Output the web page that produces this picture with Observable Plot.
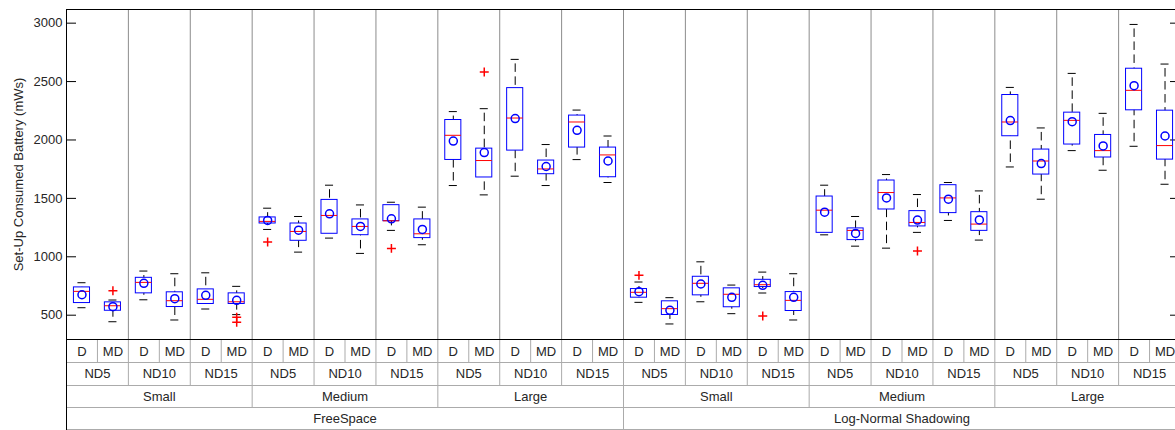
<!DOCTYPE html>
<html>
<head>
<meta charset="utf-8">
<script src="https://cdn.jsdelivr.net/npm/d3@7"></script>
<script src="https://cdn.jsdelivr.net/npm/@observablehq/plot@0.6"></script>
<style>
  html, body { margin: 0; padding: 0; background: #fff; }
  #chart svg { display: block; }
</style>
</head>
<body>
<div id="chart"></div>
<script>
// ---- categories (outer to inner) ----
const propagations = ["FreeSpace", "Log-Normal Shadowing"];
const sizes = ["Small", "Medium", "Large"];
const nodeDensities = ["ND5", "ND10", "ND15"];
const methods = ["D", "MD"];

// ---- box statistics, 36 boxes in category order ----
const whiskerLow = [
  564, 444, 632, 459, 553, 505,
  1234, 1040, 1160, 1029, 1226, 1103,
  1610, 1530, 1690, 1610, 1832, 1636,
  610, 425, 615, 513, 690, 459,
  1188, 1091, 1074, 1209, 1311, 1143,
  1769, 1493, 1909, 1741, 1946, 1621
];
const quartile1 = [
  604, 538, 687, 570, 596, 596,
  1285, 1137, 1197, 1185, 1305, 1160,
  1829, 1679, 1909, 1707, 1935, 1681,
  650, 502, 670, 568, 741, 536,
  1205, 1143, 1405, 1260, 1374, 1222,
  2032, 1704, 1961, 1850, 2254, 1832
];
const medians = [
  704, 581, 781, 624, 636, 615,
  1303, 1217, 1354, 1260, 1308, 1197,
  2040, 1824, 2188, 1752, 2154, 1872,
  696, 556, 773, 679, 761, 627,
  1399, 1226, 1550, 1294, 1504, 1280,
  2154, 1820, 2168, 1909, 2425, 1952
];
const quartile3 = [
  738, 610, 820, 696, 721, 687,
  1337, 1285, 1487, 1320, 1442, 1320,
  2171, 1926, 2444, 1824, 2209, 1935,
  724, 619, 829, 730, 803, 698,
  1516, 1243, 1653, 1391, 1613, 1382,
  2385, 1918, 2234, 2043, 2610, 2251
];
const whiskerHigh = [
  778, 630, 878, 855, 863, 747,
  1416, 1345, 1613, 1444, 1467, 1425,
  2243, 2268, 2690, 1961, 2256, 2034,
  784, 650, 957, 758, 869, 855,
  1613, 1345, 1704, 1533, 1636, 1564,
  2450, 2103, 2570, 2228, 2989, 2650
];
const means = [
  675, 573, 773, 641, 670, 627,
  1311, 1228, 1368, 1260, 1325, 1234,
  1991, 1892, 2183, 1773, 2083, 1820,
  701, 542, 767, 653, 756, 653,
  1382, 1200, 1504, 1314, 1493, 1316,
  2166, 1798, 2157, 1949, 2465, 2034
];
// outliers: [box index, value]
const outlierBox = [1, 5, 5, 6, 10, 13, 18, 22, 27];
const outlierValue = [709, 482, 440, 1126, 1072, 2581, 841, 493, 1049];

const yTicks = [500, 1000, 1500, 2000, 2500, 3000];
const yDomain = [292, 3117];
const yLabel = "Set-Up Consumed Battery (mWs)";

// ---- build tables ----
const boxes = [];
const ndGroups = [], sizeGroups = [], propGroups = [];
propagations.forEach((p) => {
  propGroups.push({pos: boxes.length + 9, text: p});
  sizes.forEach((s) => {
    sizeGroups.push({pos: boxes.length + 3, text: s});
    nodeDensities.forEach((nd) => {
      ndGroups.push({pos: boxes.length + 1, text: nd});
      methods.forEach((m) => {
        const i = boxes.length;
        boxes.push({
          i, pos: i + 0.5, text: m,
          lo: whiskerLow[i], q1: quartile1[i], med: medians[i],
          q3: quartile3[i], hi: whiskerHigh[i], mean: means[i]
        });
      });
    });
  });
});
const outliers = outlierBox.map((b, k) => ({pos: b + 0.5, value: outlierValue[k]}));

const n = boxes.length;
const bounds = d3.range(1, n);
const odd = bounds.filter(b => b % 2 === 1);
const ndB = bounds.filter(b => b % 2 === 0 && b % 6 !== 0);
const sizeB = bounds.filter(b => b % 6 === 0 && b % 18 !== 0);
const propB = bounds.filter(b => b % 18 === 0);
const evenB = bounds.filter(b => b % 2 === 0);

const HB = 0.26;   // half box width (x units)
const HC = 0.13;   // half cap width
const dash = "8.5,4.5";
const gridPlot = "#8c8c8c";
const gridLab = "#ababab";
const txt = "#262626";
const fs = 13;

const chart = Plot.plot({
  width: 1175,
  height: 430,
  marginTop: 9,
  marginBottom: 91,
  marginLeft: 66,
  marginRight: 0,
  style: {background: "#fff", fontFamily: "'Liberation Sans', Arial, sans-serif", fontSize: "13px", color: txt},
  x: {domain: [0, n], range: [66, 1180], axis: null},
  y: {domain: yDomain},
  marks: [
    // separators inside plot area
    Plot.ruleX(evenB, {stroke: gridPlot}),
    // separators in label area
    Plot.ruleX(odd, {stroke: gridLab, insetTop: 330, insetBottom: -23}),
    Plot.ruleX(ndB, {stroke: gridLab, insetTop: 330, insetBottom: -46}),
    Plot.ruleX(sizeB, {stroke: gridLab, insetTop: 330, insetBottom: -68}),
    Plot.ruleX(propB, {stroke: gridLab, insetTop: 330, insetBottom: -91}),
    // horizontal label-row lines
    Plot.ruleY([yDomain[0]], {stroke: gridLab, dy: 23}),
    Plot.ruleY([yDomain[0]], {stroke: gridLab, dy: 46}),
    Plot.ruleY([yDomain[0]], {stroke: gridLab, dy: 68}),
    Plot.ruleY([yDomain[0]], {stroke: gridLab, dy: 90}),
    // frame
    Plot.ruleY([yDomain[0]], {stroke: "black"}),
    Plot.ruleY([yDomain[1]], {stroke: "black"}),
    Plot.ruleX([0], {stroke: "black", insetBottom: -91}),
    Plot.ruleX([n], {stroke: "black"}),
    // ticks (inward, both sides)
    Plot.ruleY(yTicks, {x1: 0, x2: 0, insetRight: -10, stroke: "black"}),
    Plot.ruleY(yTicks, {x1: n, x2: n, insetLeft: -10, stroke: "black"}),
    Plot.axisY({ticks: yTicks, tickFormat: d3.format("d"), tickSize: 0, tickPadding: 4, label: null, fontSize: fs, fill: txt}),
    Plot.text([yLabel], {text: d => d, frameAnchor: "left", textAnchor: "middle", dx: -48, rotate: -90, fontSize: fs, fill: txt}),
    // whiskers
    Plot.ruleX(boxes, {x: "pos", y1: "hi", y2: "q3", stroke: "black", strokeDasharray: dash, strokeDashoffset: 8.5}),
    Plot.ruleX(boxes, {x: "pos", y1: "lo", y2: "q1", stroke: "black", strokeDasharray: dash, strokeDashoffset: 8.5}),
    Plot.ruleY(boxes, {y: "hi", x1: d => d.pos - HC, x2: d => d.pos + HC, stroke: "black"}),
    Plot.ruleY(boxes, {y: "lo", x1: d => d.pos - HC, x2: d => d.pos + HC, stroke: "black"}),
    // boxes
    Plot.rect(boxes, {x1: d => d.pos - HB, x2: d => d.pos + HB, y1: "q1", y2: "q3", stroke: "blue", fill: "none"}),
    Plot.ruleY(boxes, {y: "med", x1: d => d.pos - HB, x2: d => d.pos + HB, stroke: "red"}),
    Plot.dot(boxes, {x: "pos", y: "mean", r: 4, stroke: "blue", fill: "none"}),
    Plot.dot(outliers, {x: "pos", y: "value", symbol: "plus", r: 3, stroke: "red"}),
    // category labels
    Plot.text(boxes, {x: "pos", text: "text", frameAnchor: "bottom", dy: 16, fontSize: fs, fill: txt}),
    Plot.text(ndGroups, {x: "pos", text: "text", frameAnchor: "bottom", dy: 38.5, fontSize: fs, fill: txt}),
    Plot.text(sizeGroups, {x: "pos", text: "text", frameAnchor: "bottom", dy: 61, fontSize: fs, fill: txt}),
    Plot.text(propGroups, {x: "pos", text: "text", frameAnchor: "bottom", dy: 83.5, fontSize: fs, fill: txt})
  ]
});
document.getElementById("chart").appendChild(chart);
</script>
</body>
</html>
